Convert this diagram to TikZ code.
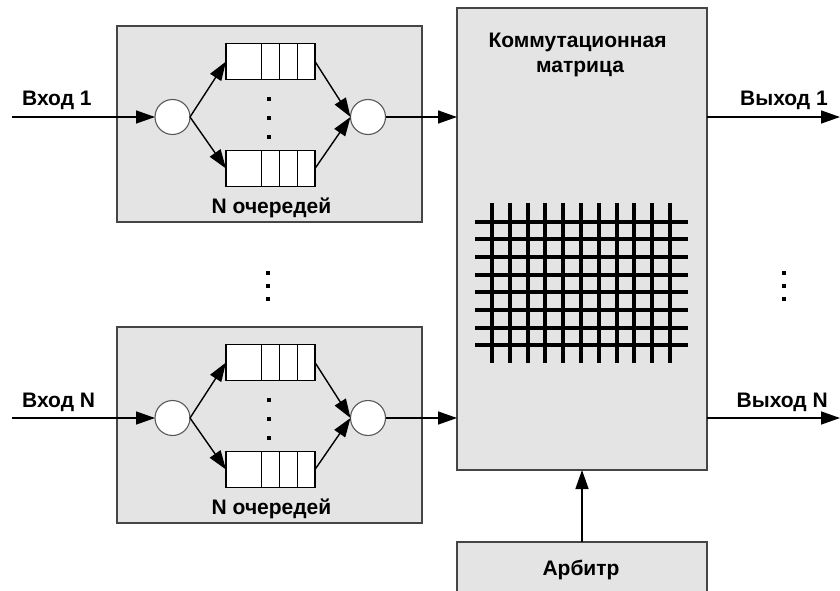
\documentclass[tikz,border=0pt]{standalone}
\usepackage{fontspec}
\setmainfont{Liberation Sans}
\usetikzlibrary{arrows.meta,calc}
\definecolor{panelgray}{HTML}{E4E4E4}
\definecolor{edgegray}{HTML}{454545}
\tikzset{
  panel/.style={draw=edgegray, fill=panelgray, line width=1.3pt, inner sep=0pt, outer sep=0pt},
  hub/.style={circle, draw=black!65, fill=white, line width=1.1pt, minimum size=35pt, inner sep=0pt, outer sep=0pt},
  queuebox/.style={draw=black, fill=white, line width=1.1pt, minimum width=89pt, minimum height=36pt, inner sep=0pt, outer sep=0pt},
  arr/.style={line width=1.4pt, -{Triangle[length=19pt,width=13pt]}},
  lbl/.style={font=\fontsize{21}{25}\selectfont\bfseries, inner sep=0pt},
  gridline/.style={line width=4pt, black},
  dot/.style={fill=black, minimum size=3.2pt, inner sep=0pt}
}
\begin{document}
\begin{tikzpicture}[x=1pt,y=-1pt]
\useasboundingbox (0,0) rectangle (840,591);
\clip (0,0) rectangle (840,591);
% matrix
\node[panel, minimum width=250pt, minimum height=462pt] (mat) at (582,239) {};
\node[lbl, anchor=base] (mtitle1) at (577.5,48) {Коммутационная};
\node[lbl, anchor=base] (mtitle2) at (580,73) {матрица};
\foreach \i in {0,...,7}{
  \draw[gridline] (475,221.7+17.66*\i) -- (688,221.7+17.66*\i);
}
\foreach \j in {0,...,10}{
  \draw[gridline] (492+17.8*\j,203) -- (492+17.8*\j,363);
}
% arbiter
\node[panel, minimum width=250pt, minimum height=60pt] (arb) at (582,572) {};
\node[lbl, anchor=base] (arbt) at (581,575) {Арбитр};
\draw[arr] (arb.north) -- (mat.south);
% rows
\foreach \r/\dy/\n in {1/0/1, 2/301/N}{
  \node[panel, minimum width=305pt, minimum height=196pt] (box\r) at (269.5,124+\dy) {};
  \node[hub] (ca\r) at (172.5,117+\dy) {};
  \node[hub] (cb\r) at (368,117+\dy) {};
  \node[queuebox] (qt\r) at (270.5,61.5+\dy) {};
  \node[queuebox] (qb\r) at (270.5,168.5+\dy) {};
  \foreach \q in {qt\r,qb\r}{
    \foreach \cx in {35.5,53,71}{
      \draw[line width=1pt] ($(\q.north west)+(\cx,0)$) -- ($(\q.south west)+(\cx,0)$);
    }
  }
  \foreach \dd in {99,118,137}{
    \node[dot] at (269,\dd+\dy) {};
  }
  \node[lbl, anchor=base] (qlab\r) at (271.5,213+\dy) {N очередей};
  \node[lbl, anchor=base west] (in\r) at (22,106+\dy) {Вход \n};
  \node[lbl, anchor=base east] (out\r) at (828,106+\dy) {Выход \n};
  \coordinate (src\r) at (12,117+\dy);
  \coordinate (dst\r) at (840,117+\dy);
  \draw[arr] (src\r) -- (ca\r);
  \draw[arr] (ca\r.east) -- (qt\r.west);
  \draw[arr] (ca\r.east) -- (qb\r.west);
  \draw[arr] (qt\r.east) -- (cb\r.west);
  \draw[arr] (qb\r.east) -- (cb\r.west);
  \draw[arr] (cb\r) -- (mat.west |- cb\r);
  \draw[arr] (mat.east |- cb\r) -- (dst\r);
}
% ellipsis dots between rows
\foreach \dd in {273,286,299}{
  \node[dot] at (268,\dd) {};
  \node[dot] at (784,\dd) {};
}
\end{tikzpicture}
\end{document}
